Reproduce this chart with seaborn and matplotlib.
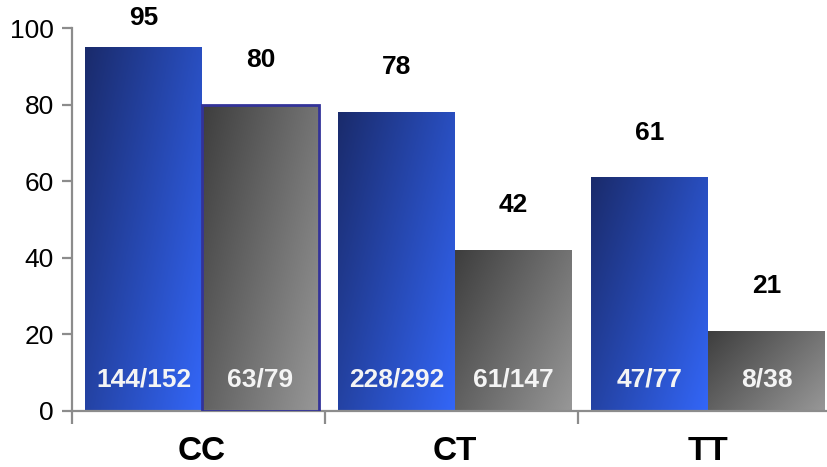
import numpy as np
import pandas as pd
import matplotlib
matplotlib.use("Agg")
import matplotlib.pyplot as plt
from matplotlib.colors import LinearSegmentedColormap
import seaborn as sns

# ---- data ----
genotypes = ["CC", "CT", "TT"]
series = ["A", "B"]
values_a = [95, 78, 61]
values_b = [80, 42, 21]
counts_a = ["144/152", "228/292", "47/77"]
counts_b = ["63/79", "61/147", "8/38"]
yticks = [0, 20, 40, 60, 80, 100]

df = pd.DataFrame({
    "genotype": genotypes * 2,
    "series": [series[0]] * 3 + [series[1]] * 3,
    "value": values_a + values_b,
    "count": counts_a + counts_b,
})

sns.set_theme(style="white")
plt.rcParams["font.family"] = ["Liberation Sans", "DejaVu Sans"]

W, H = 828, 467
fig = plt.figure(figsize=(W / 100, H / 100), dpi=100)
ax = fig.add_axes([72 / W, 56 / H, (W - 72) / W, 383 / H])

sns.barplot(data=df, x="genotype", y="value", hue="series",
            palette=["#2a4bc8", "#6a6a6a"], width=0.924, dodge=True,
            legend=False, ax=ax, errorbar=None)

cmaps = {
    0: LinearSegmentedColormap.from_list("blue", ["#1a2b6c", "#3366f7"]),
    1: LinearSegmentedColormap.from_list("gray", ["#3e3e3e", "#979797"]),
}
u = np.linspace(0, 1, 64)
grad = (u[None, :] * 0.6 + u[:, None] * 0.4)

bars = [p for p in ax.patches]
for i, p in enumerate(bars):
    s = i // 3
    x0, y0 = p.get_x(), p.get_y()
    w, h = p.get_width(), p.get_height()
    im = ax.imshow(grad, cmap=cmaps[s], extent=[x0, x0 + w, y0, y0 + h],
                   origin="upper", aspect="auto", zorder=2, interpolation="bilinear")
    im.set_clip_path(p)
    p.set_facecolor("none")
    p.set_zorder(3)
    if s == 1 and i % 3 == 0:
        p.set_edgecolor("#333399")
        p.set_linewidth(2.0)
    else:
        p.set_edgecolor("none")
        p.set_linewidth(0)

    cx = x0 + w / 2
    val = h
    ax.text(cx, min(val + 11.7, 102.6), f"{val:g}", ha="center", va="center",
            fontsize=19, fontweight="bold", color="black", zorder=5)
    lab = (counts_a if s == 0 else counts_b)[i % 3]
    ax.text(cx, 8.1, lab, ha="center", va="center", fontsize=19,
            fontweight="bold", color="#f4f4f4", zorder=5)

shift = 0.014
ax.set_xlim(-0.5 - shift, -0.5 - shift + (W - 72) / 253)
ax.set_ylim(0, 100)
ax.set_yticks(yticks)
ax.set_yticklabels([str(t) for t in yticks], fontsize=19)
ax.set_xticks(range(3))
ax.set_xticklabels(genotypes, fontsize=24, fontweight="bold")
ax.set_xticks([-0.5 - shift, 0.5 - shift, 1.5 - shift], minor=True)
ax.tick_params(axis="x", which="major", length=0, pad=18, colors="black")
ax.tick_params(axis="x", which="minor", length=9, width=1.6, color="#8c8c8c",
               direction="out", bottom=True)
ax.tick_params(axis="y", which="major", length=7, width=1.6, color="#8c8c8c",
               direction="out", left=True, pad=6, labelcolor="black")
ax.set_xlabel("")
ax.set_ylabel("")
for side in ["top", "right"]:
    ax.spines[side].set_visible(False)
for side in ["left", "bottom"]:
    ax.spines[side].set_color("#8c8c8c")
    ax.spines[side].set_linewidth(1.6)
ax.set_facecolor("white")
fig.savefig("out.png", dpi=100, facecolor="white")
